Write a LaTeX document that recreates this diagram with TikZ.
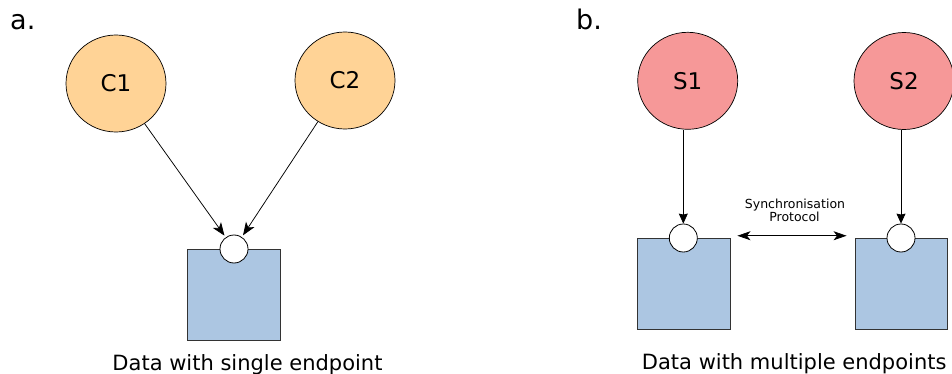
\documentclass[tikz,border=0pt]{standalone}
\usepackage{fontspec}
\setmainfont{DejaVu Sans}
\usetikzlibrary{shapes.geometric,arrows.meta}
\definecolor{clientfill}{RGB}{255,211,150}
\definecolor{serverfill}{RGB}{246,152,152}
\definecolor{datafill}{RGB}{172,198,226}
\tikzset{
  client/.style={ellipse,draw=black,line width=0.7pt,fill=clientfill,inner sep=0pt,
    minimum width=100pt,minimum height=97pt,font=\fontsize{23}{23}\selectfont},
  server/.style={client,fill=serverfill},
  datastore/.style={rectangle,draw=black!80,line width=0.8pt,fill=datafill,inner sep=0pt,
    minimum width=92.7pt,minimum height=91.5pt},
  endpointc/.style={circle,draw=black,line width=0.8pt,fill=white,inner sep=0pt,minimum size=28pt},
  link/.style={line width=0.75pt,-{Stealth[length=13pt,width=10pt,inset=3.5pt]}},
  feed/.style={line width=0.75pt,-{Stealth[length=10pt,width=9pt,inset=1pt]}},
  syncarrow/.style={line width=0.75pt,
    {Stealth[length=13pt,width=9pt,inset=3.5pt]}-{Stealth[length=13pt,width=9pt,inset=3.5pt]}},
  panel/.style={font=\fontsize{27}{27}\selectfont,anchor=base west,inner sep=0pt},
  caption/.style={font=\fontsize{21}{21}\selectfont,anchor=base,inner sep=0pt},
  small/.style={font=\fontsize{12.5}{12.5}\selectfont,anchor=base,inner sep=0pt}
}
\begin{document}
\begin{tikzpicture}[x=1pt,y=-1pt]
  \useasboundingbox[fill=white] (0,0) rectangle (952,374);

  % panel a: two clients, one endpoint
  \node[panel] (labela) at (10,30) {a.};
  \node[client] (c1) at (116,83.5) {C1};
  \node[client] (c2) at (345,80.5) {C2};
  \node[datastore] (da) at (234,294.7) {};
  \node[endpointc] (ea) at (234,249) {};
  \draw[link,shorten >=2pt] (c1) -- (ea);
  \draw[link,shorten >=2pt] (c2) -- (ea);
  \node[caption] (capa) at (247.5,370.5) {Data with single endpoint};

  % panel b: two servers, synchronised endpoints
  \node[panel] (labelb) at (576,30) {b.};
  \node[server] (s1) at (687.7,80.8) {S1};
  \node[server] (s2) at (904,81) {S2};
  \node[datastore] (db1) at (683.7,283.9) {};
  \node[datastore] (db2) at (901.3,283.9) {};
  \node[endpointc] (eb1) at (683.3,238) {};
  \node[endpointc] (eb2) at (901,238) {};
  \draw[feed] (eb1 |- s1.south) -- (eb1);
  \draw[feed] (eb2 |- s2.south) -- (eb2);
  \draw[syncarrow] ([shift={(7,-2)}]db1.north east) -- ([shift={(-8,-2)}]db2.north west);
  \node[small] (sync1) at (795,208.3) {Synchronisation};
  \node[small] (sync2) at (794.5,221.7) {Protocol};
  \node[caption] (capb) at (794.2,369.3) {Data with multiple endpoints};
\end{tikzpicture}
\end{document}
